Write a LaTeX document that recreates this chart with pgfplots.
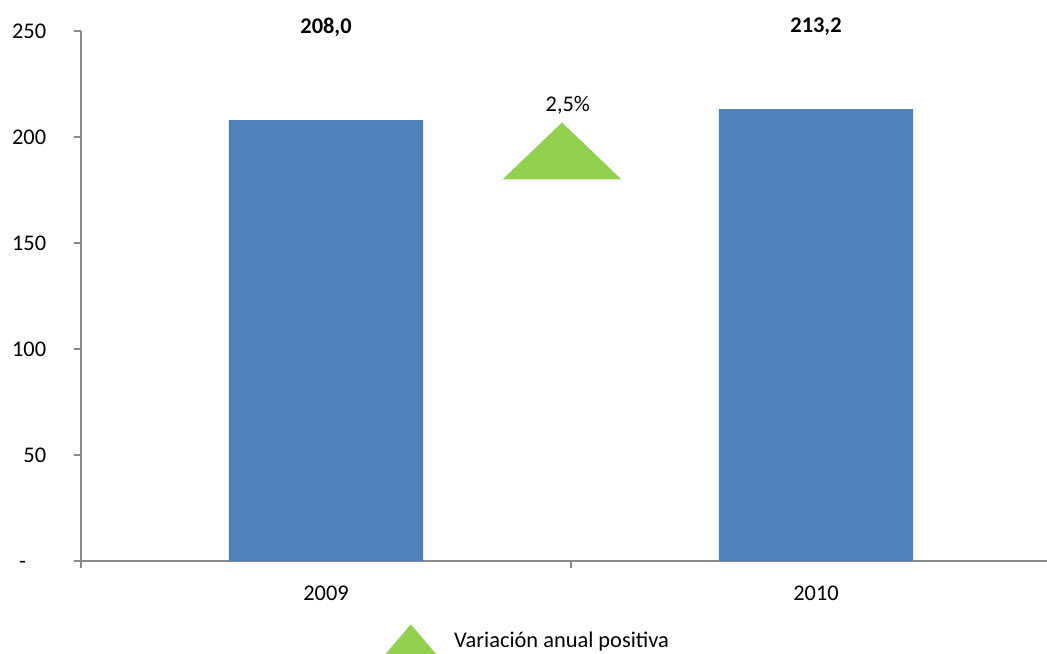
\documentclass[border=0pt]{standalone}
\usepackage{pgfplots}
\pgfplotsset{compat=1.18}
\usepackage{fontspec}
\setmainfont{Carlito}
\definecolor{barblue}{HTML}{4F81BD}
\definecolor{trigreen}{HTML}{92D050}
\definecolor{axgray}{HTML}{898989}
\pgfdeclareplotmark{wtri}{%
  \pgfsetcornersarced{\pgfpoint{1.5pt}{1.5pt}}%
  \pgfpathmoveto{\pgfpoint{0pt}{-14.25pt}}%
  \pgfpathlineto{\pgfpoint{29.75pt}{-14.25pt}}%
  \pgfpathlineto{\pgfpoint{0pt}{14.25pt}}%
  \pgfpathlineto{\pgfpoint{-29.75pt}{-14.25pt}}%
  \pgfpathclose
  \pgfusepathqfill}
\begin{document}
\fontsize{11.2}{13}\selectfont
\begin{tikzpicture}
\useasboundingbox (0,0) rectangle (523.5pt,326.5pt);
\begin{axis}[
  at={(40.5pt,46pt)}, anchor=south west,
  scale only axis, width=490pt, height=265pt,
  xmin=-0.5, xmax=1.5, ymin=0, ymax=250,
  axis x line=bottom, axis y line=left,
  axis line style={-, draw=axgray, line width=0.6pt},
  x axis line style={-}, y axis line style={-},
  clip=false,
  tick align=outside,
  major tick length=3.5pt, minor tick length=3.5pt,
  tick style={draw=axgray, line width=0.6pt},
  ytick={0,50,100,150,200,250},
  yticklabels={\rlap{\hspace{3.5pt}-}\phantom{000},50,100,150,200,250},
  yticklabel style={anchor=east, inner sep=0pt, xshift=-13.75pt},
  xtick={0,1}, xticklabels={2009,2010},
  major x tick style={draw=none},
  minor xtick={-0.5,0.5},
  xticklabel style={anchor=base, inner sep=0pt, yshift=-16.2pt},
  legend style={draw=none, fill=none, at={(axis description cs:0.3061,-0.1528)}, anchor=west, inner sep=0pt,
    /tikz/every odd column/.append style={column sep=5pt}},
  legend cell align=left,
]
\addplot[ybar, bar width=0.396, fill=barblue, draw=none, forget plot] coordinates {(0,208.0) (1,213.2)};
\addplot[only marks, mark=wtri, mark options={fill=trigreen, draw=none},
  legend image code/.code={\fill[trigreen] (0pt,-9pt) -- (29pt,-9pt) -- (14.5pt,8pt) -- cycle;}]
  coordinates {(0.4816,193.4)};
\addlegendentry{Variación anual positiva}
\node[font=\bfseries] at (axis cs:0,251.9) {208,0};
\node[font=\bfseries] at (axis cs:1,251.9) {213,2};
\node at (axis cs:0.4935,215.1) {2,5\%};
\end{axis}
\end{tikzpicture}
\end{document}
